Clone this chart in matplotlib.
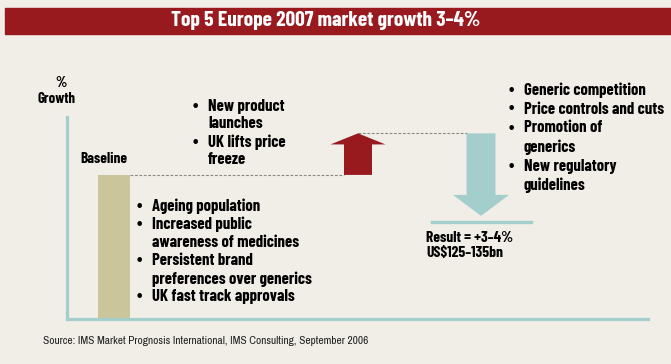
import matplotlib.pyplot as plt
from matplotlib.patches import Rectangle

# growth levels (schematic units): baseline, after upside drivers, end result
levels = ["Baseline", "Upside", "Result"]
level_values = [5.2, 6.7, 3.5]
arrow_stop = 3.72  # the downward arrow stops just above the result line

title = "Top 5 Europe 2007 market growth 3\u20134%"
upside_bullets = [["New product", "launches"], ["UK lifts price", "freeze"]]
baseline_bullets = [["Ageing population"],
                    ["Increased public", "awareness of medicines"],
                    ["Persistent brand", "preferences over generics"],
                    ["UK fast track approvals"]]
downside_bullets = [["Generic competition"], ["Price controls and cuts"],
                    ["Promotion of", "generics"],
                    ["New regulatory", "guidelines"]]
result_text = ["Result = +3\u20134%", "US$125\u2013135bn"]
source = "Source: IMS Market Prognosis International, IMS Consulting, September 2006"

BG = "#f1eee8"
RED = "#981a1f"
TEAL = "#a3cecb"
KHAKI = "#cac59b"
FONT = ["Barlow Condensed", "DejaVu Sans"]
SRC_FONT = ["Archivo Narrow", "DejaVu Sans"]

W, H = 671, 364
fig = plt.figure(figsize=(W / 100, H / 100), dpi=100, facecolor=BG)

# overlay in pixel coordinates for the title band and text blocks
ov = fig.add_axes([0, 0, 1, 1])
ov.set_xlim(0, W)
ov.set_ylim(H, 0)
ov.axis("off")
ov.patch.set_alpha(0)

ov.add_patch(Rectangle((5, 8), W - 5, 26, color=RED, zorder=1))
ov.text(326, 21, title, color="white", fontsize=15.4, fontweight="bold",
        family=FONT, ha="center", va="center", zorder=2)

# plot area
x0, x1, ytop, ybot = 67, 648, 117, 319
ax = fig.add_axes([x0 / W, (H - ybot) / H, (x1 - x0) / W, (ybot - ytop) / H])
ax.set_xlim(0, x1 - x0)
ax.set_ylim(0, 7.29)
ax.patch.set_alpha(0)
for s in ["top", "right"]:
    ax.spines[s].set_visible(False)
for s in ["left", "bottom"]:
    ax.spines[s].set_color(TEAL)
    ax.spines[s].set_linewidth(2.3)
ax.set_xticks([])
ax.set_yticks([])

base, peak, result = level_values
bar_x, red_x, teal_x = 47, 291, 414

ax.bar(bar_x, base, width=32, color=KHAKI, zorder=2)

ax.arrow(red_x, base, 0, peak - base, width=28, head_width=55,
         head_length=0.4, length_includes_head=True, color=RED, lw=0, zorder=3)
ax.arrow(teal_x, peak, 0, arrow_stop - peak, width=29, head_width=56,
         head_length=0.76, length_includes_head=True, color=TEAL, lw=0, zorder=3)

ax.plot([bar_x + 16, red_x - 14], [base, base], color="#888888", lw=0.8,
        ls=(0, (2.5, 1.5)), zorder=1)
ax.plot([red_x, teal_x - 14.5], [peak, peak], color="#888888", lw=0.8,
        ls=(0, (2.5, 1.5)), zorder=1)
ax.plot([365, 464], [result, result], color=TEAL, lw=2.4, zorder=2)


def bullets(items, bx, tx, y, step, size=12):
    for item in items:
        for i, line in enumerate(item):
            if i == 0:
                ov.text(bx, y, "\u2022", fontsize=size + 1, fontweight="bold",
                        family=FONT, ha="center", va="center")
            ov.text(tx, y, line, fontsize=size, fontweight="bold",
                    family=FONT, ha="left", va="center")
            y += step


bullets(upside_bullets, 195, 208, 106, 18)
bullets(baseline_bullets, 139, 152, 206, 18.2)
bullets(downside_bullets, 511, 524, 90, 19)

ov.text(61, 83, "%", fontsize=10.6, fontweight="bold", family=FONT,
        ha="center", va="center")
ov.text(56, 99, "Growth", fontsize=10.6, fontweight="bold", family=FONT,
        ha="center", va="center")
ov.text(104, 159, "Baseline", fontsize=11, fontweight="bold", family=FONT,
        ha="center", va="center")

for i, line in enumerate(result_text):
    ov.text(426, 238 + 15.5 * i, line, fontsize=11.2, fontweight="bold",
            family=FONT, ha="left", va="center")

ov.text(43, 341, source, fontsize=8.2, family=SRC_FONT, ha="left", va="center",
        color="#222222")

fig.savefig("out.png", dpi=100, facecolor=BG)
